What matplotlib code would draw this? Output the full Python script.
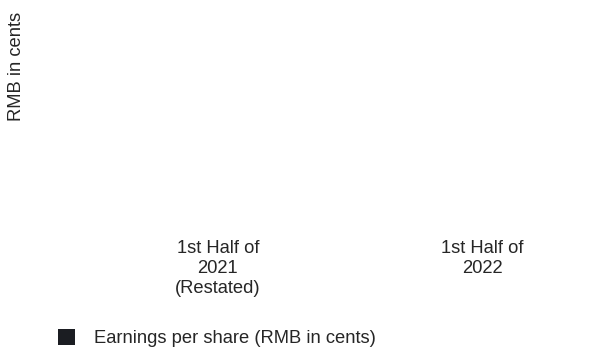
import matplotlib.pyplot as plt

plt.rcParams['font.family'] = ['Liberation Sans', 'DejaVu Sans']

# data (the bars carry no visible height in the reference)
categories = ['1st Half of\n2021\n(Restated)', '1st Half of\n2022']
eps_values = [0, 0]
series_name = 'Earnings per share (RMB in cents)'
bar_color = '#1b1d22'

fs = 13.2
txt = '#262626'

fig = plt.figure(figsize=(6.09, 3.49), dpi=100)
W, H = 609, 349
ax = fig.add_axes([99 / W, 1 - 233 / H, 502 / W, 225 / H])

x = list(range(len(categories)))
bars = ax.bar(x, eps_values, width=0.5, color=bar_color, label=series_name)

ax.set_xlim(-0.45, 1.45)
ax.set_ylim(0, 1)
ax.set_xticks(x)
ax.set_xticklabels(categories, fontsize=fs, color=txt,
                   multialignment='center', linespacing=1.22)
ax.tick_params(axis='x', length=0, pad=5)
ax.set_yticks([])
for s in ax.spines.values():
    s.set_visible(False)

fig.text(17 / W, 1 - 12 / H, 'RMB in cents', rotation=90, ha='center',
         va='top', fontsize=fs, color=txt)

fig.legend(handles=[bars], labels=[series_name], loc='center left',
           bbox_to_anchor=(58 / W, 1 - 338 / H), frameon=False,
           fontsize=fs, handlelength=0.95, handleheight=0.95,
           handletextpad=1.0, borderaxespad=0, borderpad=0,
           labelcolor=txt)

fig.savefig('out.png', dpi=100)
